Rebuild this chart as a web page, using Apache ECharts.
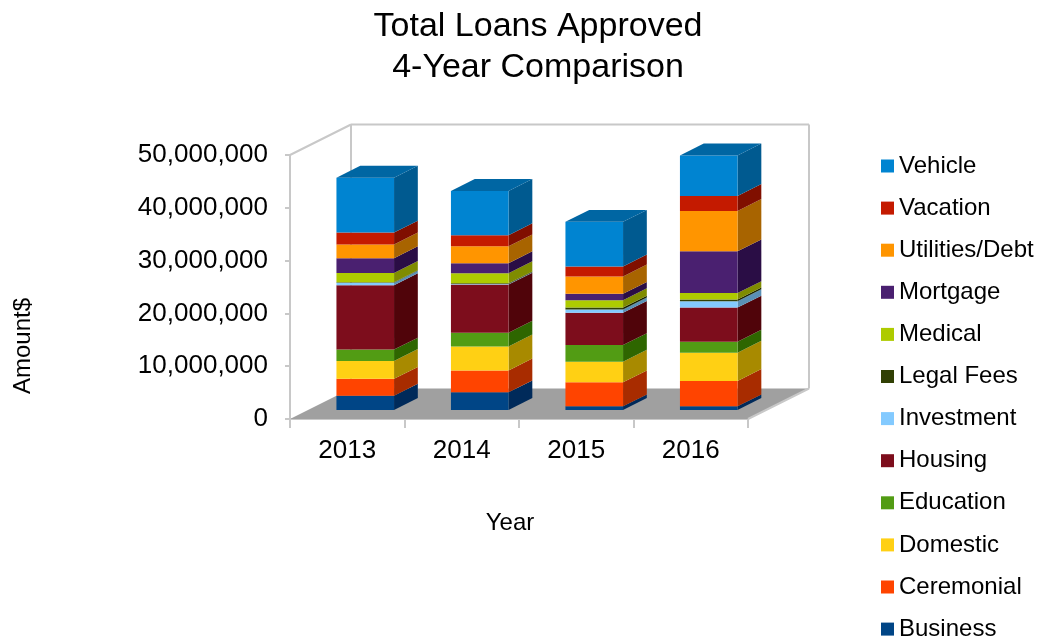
<!DOCTYPE html>
<html>
<head>
<meta charset="utf-8">
<style>
  html, body { margin: 0; padding: 0; background: #fff; }
  #chart { width: 1040px; height: 641px; }
</style>
<script src="https://cdn.jsdelivr.net/npm/echarts@6/dist/echarts.min.js"></script>
</head>
<body>
<div id="chart"></div>
<script>
// Loan categories and yearly amounts, bottom of the stack first
const years = ['2013', '2014', '2015', '2016'];
const business    = [2700000, 3350000, 700000, 700000];
const ceremonial  = [3200000, 4150000, 4550000, 4800000];
const domestic    = [3400000, 4550000, 3900000, 5350000];
const education   = [2150000, 2600000, 3150000, 2100000];
const housing     = [12200000, 9100000, 6100000, 6450000];
const investment  = [450000, 100000, 650000, 1200000];
const legalFees   = [100000, 150000, 350000, 350000];
const medical     = [1750000, 1900000, 1400000, 1200000];
const mortgage    = [2800000, 1900000, 1200000, 7900000];
const utilities   = [2600000, 3200000, 3300000, 7650000];
const vacation    = [2250000, 2100000, 1900000, 2850000];
const vehicle     = [10400000, 8400000, 8450000, 7650000];

const names = ['Business', 'Ceremonial', 'Domestic', 'Education', 'Housing', 'Investment',
               'Legal Fees', 'Medical', 'Mortgage', 'Utilities/Debt', 'Vacation', 'Vehicle'];
const amounts = [business, ceremonial, domestic, education, housing, investment,
                 legalFees, medical, mortgage, utilities, vacation, vehicle];
const frontColors = ['#004586', '#ff4400', '#ffd014', '#529c14', '#7d0d1c', '#83caff',
                     '#314004', '#aecb00', '#4a2070', '#ff9500', '#c41a00', '#0084d1'];
const sideColors  = ['#002a5a', '#a82c00', '#a88a00', '#2e6600', '#50040a', '#5a90b5',
                     '#1c2602', '#7f8c00', '#2a0d45', '#a86400', '#800f00', '#005a90'];
const topColor = '#0066a3';

// Oblique projection of the chart box
const wallDX = 61, wallDY = 30.5;
const barShift = 0.295, barDepth = 0.39, barWidth = 0.503;
const frameColor = '#c8c8c8', floorColor = '#a0a0a0';

function renderFrame(params, api) {
  const c = params.coordSys;
  const l = c.x, r = c.x + c.width, t = c.y, b = c.y + c.height;
  const line = (x1, y1, x2, y2) => ({
    type: 'line',
    shape: { x1, y1, x2, y2 },
    style: { stroke: frameColor, lineWidth: 2 }
  });
  return {
    type: 'group',
    children: [
      { type: 'polygon',
        shape: { points: [[l, b], [r, b], [r + wallDX, b - wallDY], [l + wallDX, b - wallDY]] },
        style: { fill: floorColor } },
      line(l, t, l, b),
      line(l, t, l + wallDX, t - wallDY),
      line(l + wallDX, t - wallDY, l + wallDX, b - wallDY),
      line(l + wallDX, t - wallDY, r + wallDX, t - wallDY),
      line(r + wallDX, t - wallDY, r + wallDX, b - wallDY),
      line(r, b, r + wallDX, b - wallDY)
    ]
  };
}

function renderBlock(seriesIndex) {
  return function (params, api) {
    const idx = api.value(0);
    const low = api.coord([idx, api.value(1)]);
    const high = api.coord([idx, api.value(2)]);
    const half = api.size([1, 0])[0] * barWidth / 2;
    const ox = wallDX * barShift, oy = wallDY * barShift;
    const dx = wallDX * barDepth, dy = wallDY * barDepth;
    const x0 = low[0] + ox - half, x1 = low[0] + ox + half;
    const yLow = low[1] - oy, yHigh = high[1] - oy;
    const children = [
      { type: 'polygon',
        shape: { points: [[x1, yLow], [x1 + dx, yLow - dy], [x1 + dx, yHigh - dy], [x1, yHigh]] },
        style: { fill: sideColors[seriesIndex] } },
      { type: 'rect',
        shape: { x: x0, y: yHigh, width: x1 - x0, height: yLow - yHigh },
        style: { fill: frontColors[seriesIndex] } }
    ];
    if (seriesIndex === names.length - 1) {
      children.push({ type: 'polygon',
        shape: { points: [[x0, yHigh], [x0 + dx, yHigh - dy], [x1 + dx, yHigh - dy], [x1, yHigh]] },
        style: { fill: topColor } });
    }
    return { type: 'group', children };
  };
}

// Running totals turn the category amounts into stacked blocks
const running = years.map(() => 0);
const blockSeries = names.map((name, s) => ({
  name,
  type: 'custom',
  coordinateSystem: 'cartesian2d',
  clip: false,
  silent: true,
  itemStyle: { color: frontColors[s] },
  encode: { x: 0, y: [1, 2] },
  data: amounts[s].map((v, i) => {
    const item = [i, running[i], running[i] + v];
    running[i] += v;
    return item;
  }),
  renderItem: renderBlock(s)
}));

const chart = echarts.init(document.getElementById('chart'), null, { renderer: 'canvas' });
chart.setOption({
  animation: false,
  backgroundColor: '#ffffff',
  textStyle: { fontFamily: '"Liberation Sans", Arial, sans-serif', color: '#000' },
  title: {
    text: 'Total Loans Approved\n4-Year Comparison',
    left: 538,
    top: 6,
    padding: 0,
    textAlign: 'center',
    textStyle: { fontFamily: '"Liberation Sans", Arial, sans-serif', fontSize: 34, fontWeight: 'normal', color: '#000', lineHeight: 41 }
  },
  grid: { left: 290, top: 155, width: 458, height: 264, containLabel: false },
  legend: {
    orient: 'vertical',
    left: 881,
    top: 153,
    height: 500,
    padding: 0,
    icon: 'rect',
    itemWidth: 13,
    itemHeight: 13,
    itemGap: 16.1,
    selectedMode: false,
    data: names.slice().reverse(),
    textStyle: { fontFamily: '"Liberation Sans", Arial, sans-serif', fontSize: 24, color: '#000', lineHeight: 26 }
  },
  xAxis: {
    type: 'category',
    data: years,
    name: 'Year',
    nameLocation: 'middle',
    nameGap: 92,
    nameTextStyle: { fontSize: 24, color: '#000', padding: [0, 18, 0, 0] },
    axisLine: { show: true, lineStyle: { color: frameColor, width: 2 } },
    axisTick: { show: true, length: 9, alignWithLabel: false, lineStyle: { color: frameColor, width: 2 } },
    axisLabel: { fontSize: 26, color: '#000', margin: 19 }
  },
  yAxis: {
    type: 'value',
    min: 0,
    max: 50000000,
    interval: 10000000,
    name: 'Amount$',
    nameLocation: 'middle',
    nameGap: 255,
    nameRotate: 90,
    nameTextStyle: { fontSize: 24, color: '#000', padding: [0, 118, 0, 0] },
    axisLine: { show: false },
    axisTick: { show: true, length: 5, lineStyle: { color: frameColor, width: 2 } },
    splitLine: { show: false },
    axisLabel: {
      fontSize: 26,
      color: '#000',
      margin: 22,
      formatter: v => v.toLocaleString('en-US')
    }
  },
  series: [
    { name: 'frame', type: 'custom', coordinateSystem: 'cartesian2d', clip: false, silent: true,
      data: [[0, 0]], renderItem: renderFrame, z: 1 }
  ].concat(blockSeries.map(s => Object.assign(s, { z: 2 })))
});
</script>
</body>
</html>
